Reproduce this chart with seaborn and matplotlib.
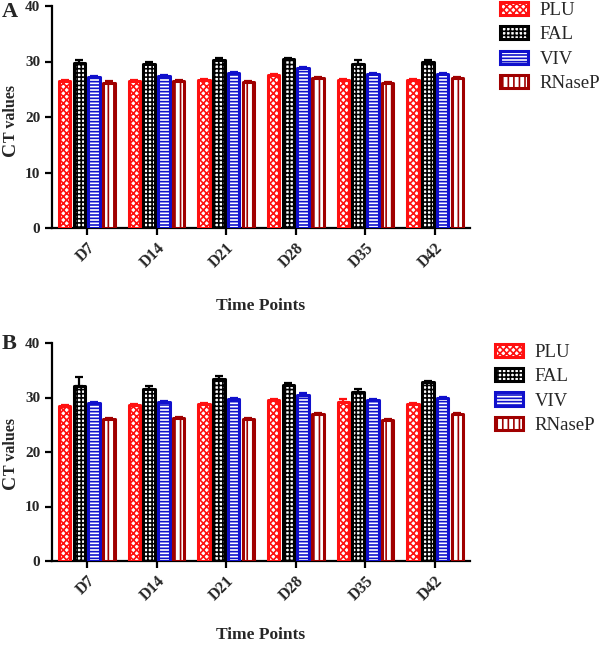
import numpy as np
import pandas as pd
import matplotlib
matplotlib.use("Agg")
import matplotlib.pyplot as plt
from matplotlib.patches import Patch
from matplotlib.container import BarContainer
import seaborn as sns

# ---------------- data ----------------
time_points = ["D7", "D14", "D21", "D28", "D35", "D42"]
assays = ["PLU", "FAL", "VIV", "RNaseP"]

# Panel A (mean Ct)
a_plu = [26.4, 26.5, 26.7, 27.5, 26.7, 26.6]
a_fal = [29.8, 29.6, 30.3, 30.4, 29.6, 29.9]
a_viv = [27.2, 27.3, 27.9, 28.8, 27.8, 27.8]
a_rnasep = [26.2, 26.4, 26.3, 27.0, 26.1, 27.0]
# Panel A (error, upper)
a_plu_err = [0.2, 0.2, 0.2, 0.3, 0.2, 0.2]
a_fal_err = [0.4, 0.3, 0.3, 0.3, 0.7, 0.3]
a_viv_err = [0.2, 0.2, 0.2, 0.2, 0.2, 0.2]
a_rnasep_err = [0.2, 0.2, 0.2, 0.2, 0.2, 0.2]

# Panel B (mean Ct)
b_plu = [28.5, 28.6, 28.8, 29.6, 29.2, 28.8]
b_fal = [32.2, 31.6, 33.4, 32.3, 31.0, 32.8]
b_viv = [29.0, 29.2, 29.7, 30.5, 29.6, 29.9]
b_rnasep = [26.0, 26.3, 26.1, 26.9, 25.8, 26.9]
# Panel B (error, upper)
b_plu_err = [0.2, 0.2, 0.2, 0.2, 0.5, 0.2]
b_fal_err = [1.5, 0.5, 0.6, 0.4, 0.5, 0.3]
b_viv_err = [0.2, 0.2, 0.2, 0.4, 0.2, 0.2]
b_rnasep_err = [0.2, 0.2, 0.2, 0.2, 0.2, 0.2]

y_ticks = [0, 10, 20, 30, 40]

# ---------------- style ----------------
sns.set_style("ticks")
plt.rcParams["font.family"] = ["Liberation Serif", "DejaVu Serif"]
plt.rcParams["hatch.linewidth"] = 1.2

colors = ["#ff1010", "#000000", "#1010cc", "#a00000"]
hatches = ["xxxxx", "++++", "-----", "|||"]
EDGE_LW = 2.2


def build_df(values):
    rows = []
    for assay, vals in zip(assays, values):
        for tp, v in zip(time_points, vals):
            rows.append({"time": tp, "assay": assay, "ct": v})
    return pd.DataFrame(rows)


def draw_panel(ax, values, errors, labelpad):
    df = build_df(values)
    sns.barplot(data=df, x="time", y="ct", hue="assay", order=time_points,
                hue_order=assays, palette=colors, width=0.85, gap=0.22,
                errorbar=None, saturation=1, legend=False, ax=ax, zorder=3)
    bar_conts = [c for c in ax.containers if isinstance(c, BarContainer)]
    for i, cont in enumerate(bar_conts):
        xs, ys = [], []
        for p in cont.patches:
            p.set_facecolor("white")
            p.set_edgecolor(colors[i])
            p.set_hatch(hatches[i])
            p.set_linewidth(EDGE_LW)
            p.set_joinstyle("round")
            xs.append(p.get_x() + p.get_width() / 2)
            ys.append(p.get_height())
        err = errors[i]
        ax.errorbar(xs, ys, yerr=[np.zeros(len(err)), err], fmt="none",
                    ecolor=colors[i], elinewidth=1.6, capsize=3, capthick=1.6,
                    zorder=2)
    ax.set_ylim(0, 40)
    ax.set_xlim(-0.5, len(time_points) - 0.5)
    ax.set_yticks(y_ticks)
    sns.despine(ax=ax)
    for s in ["left", "bottom"]:
        ax.spines[s].set_linewidth(1.6)
        ax.spines[s].set_color("black")
    ax.tick_params(axis="both", direction="out", length=5, width=1.6,
                   color="black")
    for lab in ax.get_yticklabels():
        lab.set_fontweight("bold")
        lab.set_fontsize(11)
    ax.set_xticks(range(len(time_points)))
    ax.set_xticklabels(time_points, rotation=45, ha="right",
                       rotation_mode="anchor", fontweight="bold", fontsize=11.5)
    ax.set_xlabel("Time Points", fontweight="bold", fontsize=12.5,
                  labelpad=labelpad)
    ax.set_ylabel("")
    handles = [Patch(facecolor="white", edgecolor=c, hatch=h, linewidth=EDGE_LW)
               for c, h in zip(colors, hatches)]
    return handles


fig = plt.figure(figsize=(6.0, 6.45), dpi=100)
W, H = 600.0, 645.0
axA = fig.add_axes([52 / W, 1 - 228 / H, 418 / W, 222 / H])
axB = fig.add_axes([52 / W, 1 - 561 / H, 418 / W, 218 / H])

hA = draw_panel(axA, [a_plu, a_fal, a_viv, a_rnasep],
                [a_plu_err, a_fal_err, a_viv_err, a_rnasep_err], 19.5)
hB = draw_panel(axB, [b_plu, b_fal, b_viv, b_rnasep],
                [b_plu_err, b_fal_err, b_viv_err, b_rnasep_err], 17)

legkw = dict(frameon=False, borderaxespad=0, borderpad=0, fontsize=13.5,
             handlelength=1.5, handleheight=0.7, labelspacing=0.38,
             handletextpad=0.6, loc="upper left")
axA.legend(hA, assays, bbox_to_anchor=((500 - 52) / 418, (228 - 2) / 222), **legkw)
axB.legend(hB, assays, bbox_to_anchor=((495 - 52) / 418, (561 - 344) / 218), **legkw)

# panel letters
fig.text(2 / W, 1 - 2 / H, "A", fontsize=16, fontweight="bold", va="top", ha="left")
fig.text(2 / W, 1 - 334 / H, "B", fontsize=16, fontweight="bold", va="top", ha="left")


# y labels: "C" with small-cap "T values"
def ylabel(y_start_px):
    t1 = fig.text(19 / W, 1 - y_start_px / H, "C", rotation=90, fontsize=14,
                  fontweight="bold", ha="right", va="bottom")
    ann = fig.text(0, 0, "T values", rotation=90, fontsize=11.5,
                   fontweight="bold", ha="right", va="bottom")
    fig.canvas.draw()
    bb = t1.get_window_extent()
    ann.set_position(fig.transFigure.inverted().transform((bb.x1, bb.y1)))
    return t1, ann


ylabel(156)
ylabel(489)

fig.savefig("out.png", dpi=100)
